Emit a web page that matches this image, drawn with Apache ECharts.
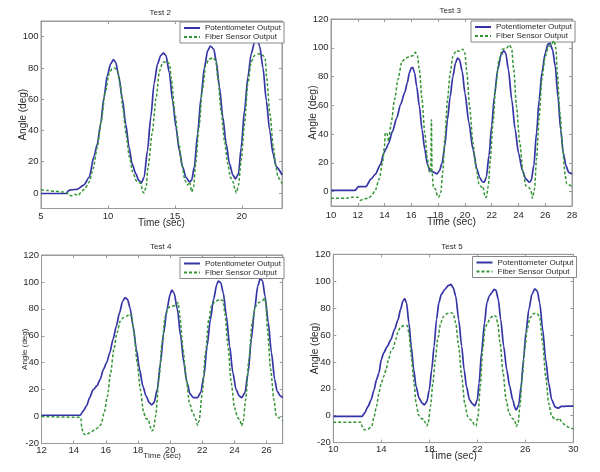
<!DOCTYPE html>
<html><head><meta charset="utf-8">
<script src="https://cdn.jsdelivr.net/npm/echarts@6/dist/echarts.min.js"></script>
<style>html,body{margin:0;padding:0;background:#fff}#c{width:600px;height:472px}</style>
</head><body><div id="c"></div>
<script>
// ---------- data ----------
const seriesNames = ['Potentiometer Output', 'Fiber Sensor Output'];
const panelTitles = ['Test 2', 'Test 3', 'Test 4', 'Test 5'];
const xAxisName = 'Time (sec)';
const yAxisName = 'Angle (deg)';

const test2XTicks = [5, 10, 15, 20];
const test2YTicks = [0, 20, 40, 60, 80, 100];
const test3XTicks = [10, 12, 14, 16, 18, 20, 22, 24, 26, 28];
const test3YTicks = [0, 20, 40, 60, 80, 100, 120];
const test4XTicks = [12, 14, 16, 18, 20, 22, 24, 26];
const test4YTicks = [-20, 0, 20, 40, 60, 80, 100, 120];
const test5XTicks = [10, 14, 18, 22, 26, 30];
const test5YTicks = [-20, 0, 20, 40, 60, 80, 100, 120];

const test2Pot = [[5,-0.4],[6,-0.4],[6.9,-0.4],[7.05,1.5],[7.3,2],[7.7,2.3],[8.2,5],[8.6,10],[8.95,23],[9.2,31],[9.45,44],[9.7,61],[9.95,75],[10.2,82.5],[10.4,85.3],[10.58,83.6],[10.8,75],[11.08,60],[11.33,44],[11.58,29],[11.8,18.7],[12.08,12.3],[12.3,8],[12.5,6.4],[12.7,10],[12.95,27],[13.2,48.5],[13.45,70],[13.7,82.5],[13.95,88],[14.15,89.4],[14.33,88],[14.58,77],[14.83,59],[15.08,42],[15.33,27],[15.58,16.6],[15.83,10],[16.08,7],[16.25,8],[16.45,16.6],[16.7,38],[16.95,61],[17.2,80],[17.45,91],[17.65,94],[17.9,92],[18.08,84.7],[18.33,67.7],[18.58,48.5],[18.83,31.5],[19.08,18.7],[19.33,11.3],[19.53,9],[19.75,12.3],[19.95,29],[20.2,52.8],[20.45,74],[20.7,89],[20.95,96.4],[21.15,97.9],[21.33,94],[21.58,80],[21.83,59],[22.08,40],[22.33,25],[22.58,16.6],[23,11.5]];
const test2Fiber = [[5,2],[5.5,1.5],[6,1],[6.5,0.8],[6.9,0.3],[7.1,-1.5],[7.3,-1.8],[7.5,-0.8],[7.8,-1.5],[8,0.6],[8.3,3],[8.6,7],[8.9,15.5],[9.2,29],[9.5,46],[9.8,64.5],[10.1,76.6],[10.3,79.4],[10.5,80],[10.7,78],[10.9,70],[11.1,55],[11.35,38],[11.6,23],[11.85,13.4],[12.1,8],[12.3,7],[12.45,6],[12.6,0.6],[12.7,0],[12.85,3.8],[13,16.6],[13.3,38],[13.6,61],[13.85,78],[14.1,83.6],[14.4,84],[14.6,82.5],[14.75,72],[15,50.6],[15.3,31.5],[15.55,16.6],[15.75,8],[15.95,5],[16.1,7],[16.25,0.6],[16.4,3.8],[16.55,18.7],[16.8,42],[17.05,65.5],[17.3,81.5],[17.55,85.7],[17.85,86.4],[18.05,84.7],[18.2,74],[18.45,52.8],[18.7,33.6],[18.95,18.7],[19.15,10],[19.35,7],[19.5,1.7],[19.6,0],[19.75,5],[19.95,21],[20.2,44],[20.45,70],[20.7,83.6],[20.95,88],[21.3,89],[21.6,88],[21.75,85.7],[21.85,74],[22.1,50.6],[22.35,29.4],[22.55,16.6],[22.7,10],[23,6]];

const test3Pot = [[10,0.8],[11.8,0.8],[12.05,3.5],[12.6,3.5],[13,8.8],[13.3,12],[13.7,19],[13.95,27],[14.1,29.5],[14.3,33.6],[14.6,42],[14.9,51],[15.2,60.6],[15.5,68.7],[15.7,75.6],[15.85,82.5],[16,86],[16.1,86.4],[16.25,82.5],[16.4,73],[16.6,59.4],[16.8,43],[17,29.5],[17.2,19],[17.4,14.5],[17.7,13.4],[17.9,12.2],[18.1,14.5],[18.3,20],[18.5,31.8],[18.7,50],[18.9,66],[19.1,80],[19.3,89.4],[19.45,92.9],[19.6,91.7],[19.8,83.6],[20,68.7],[20.3,48],[20.6,29.5],[20.9,15.7],[21.1,10],[21.3,7],[21.45,6.5],[21.6,10],[21.8,25],[22,45.6],[22.2,66],[22.45,84.8],[22.7,95],[22.9,98],[23.05,96.3],[23.25,84.8],[23.5,64],[23.75,43.3],[24,27],[24.3,14.5],[24.55,8.8],[24.8,6.5],[24.95,7.6],[25.15,18],[25.35,41],[25.55,64],[25.75,82.5],[26,96.3],[26.2,102.5],[26.35,103.2],[26.55,98.6],[26.75,87],[26.95,66],[27.15,43.3],[27.35,27],[27.55,18],[27.75,13.4],[28,12.2]];
const test3Fiber = [[10,-4.6],[11.2,-4.6],[11.5,-4],[12,-4],[12.2,-6],[12.5,-5],[12.8,-4.5],[13,-3],[13.3,0.7],[13.6,8.8],[13.85,20],[14,31.8],[14.05,41],[14.2,40],[14.3,35],[14.5,48],[14.75,64],[15,78],[15.3,90.5],[15.6,92.9],[15.9,94],[16.1,94.5],[16.3,96.8],[16.45,94.5],[16.6,84.8],[16.8,64],[17,41],[17.2,22.6],[17.35,13.4],[17.45,14],[17.5,50],[17.55,13.4],[17.65,3],[17.8,1.8],[17.95,-2.8],[18.05,-3.9],[18.2,-0.5],[18.35,13.4],[18.5,36.4],[18.7,64],[18.9,82.5],[19.1,94],[19.35,98],[19.6,97.5],[19.85,99],[20,96.3],[20.15,82.5],[20.35,59.4],[20.6,34],[20.85,15.7],[21.05,5.3],[21.25,3],[21.35,3.7],[21.5,-3.9],[21.6,-3.9],[21.75,4],[21.9,22.6],[22.1,48],[22.3,73],[22.55,91.7],[22.8,99],[23.1,99.8],[23.35,102],[23.5,98.6],[23.65,84.8],[23.85,59.4],[24.1,34],[24.35,13.4],[24.55,4],[24.75,3],[24.9,1.8],[25.05,-4.6],[25.2,1.8],[25.35,22.6],[25.55,52.5],[25.75,78],[26,94],[26.25,101],[26.45,102],[26.65,105],[26.8,99.8],[26.9,82.5],[27.1,54.8],[27.3,29.5],[27.5,11],[27.6,5.3],[27.8,4.6],[28,3.7]];

const test4Pot = [[12,1],[14.4,1],[14.6,4.2],[14.8,8],[15,14],[15.2,19.8],[15.45,22.8],[15.65,27.7],[15.85,35],[16.05,40],[16.25,47.5],[16.45,57.4],[16.65,67],[16.85,77],[17.05,85.8],[17.2,88.3],[17.35,87],[17.5,81],[17.7,67],[17.9,50],[18.1,35],[18.3,22.8],[18.5,15.3],[18.7,10.4],[18.85,8.7],[19,10.4],[19.2,20],[19.4,40],[19.6,62.3],[19.8,79.6],[20,90.8],[20.1,94],[20.25,91.5],[20.45,79.6],[20.65,60],[20.85,40],[21.05,25],[21.25,16.6],[21.45,14],[21.7,14],[21.9,17.8],[22.1,30],[22.3,52.4],[22.5,72],[22.7,87],[22.9,98],[23,100.7],[23.15,99.4],[23.3,92],[23.5,74.7],[23.7,52.4],[23.9,32.6],[24.1,20],[24.3,15.3],[24.45,14],[24.65,17.8],[24.85,32.6],[25.05,57.4],[25.25,79.6],[25.45,97],[25.6,102.4],[25.75,100.7],[25.9,89.5],[26.1,70],[26.3,47.5],[26.5,27.7],[26.65,19],[26.85,15.3],[27,14]];
const test4Fiber = [[12,0],[14.4,-0.5],[14.45,-1.5],[14.5,-8],[14.6,-12.6],[14.75,-13.6],[15,-12],[15.3,-10],[15.55,-8],[15.7,-5.7],[15.9,3],[16.1,15.3],[16.3,32.6],[16.5,50],[16.7,62.3],[16.9,71],[17.1,73.5],[17.3,74.7],[17.5,76],[17.6,74.7],[17.75,62.3],[17.95,40],[18.15,20],[18.35,3],[18.5,-1.5],[18.65,-2],[18.75,-7],[18.85,-10.6],[18.95,-10],[19.1,0.5],[19.3,27.7],[19.5,55],[19.7,74.7],[19.9,81],[20.15,82],[20.35,82.6],[20.5,84.6],[20.6,74.7],[20.8,50],[21,27.7],[21.2,10.4],[21.4,3],[21.6,-2],[21.7,-6.4],[21.8,-3.2],[22,17.8],[22.2,47.5],[22.4,72],[22.6,83.4],[22.85,85.8],[23.1,87],[23.3,85.8],[23.4,77],[23.6,52.4],[23.8,25],[24,6.7],[24.2,-0.7],[24.35,-3.2],[24.45,-7],[24.55,-3.2],[24.7,12.9],[24.9,42.5],[25.1,70],[25.3,82],[25.55,85],[25.75,85.8],[25.85,88.3],[25.95,84.6],[26.05,64.8],[26.25,35],[26.45,12.9],[26.6,0.5],[26.8,-1.2],[27,-3.2]];

const test5Pot = [[10,-0.5],[12.4,-0.5],[12.6,1.9],[12.9,6.9],[13.15,11.8],[13.4,19.3],[13.6,26.8],[13.8,31.7],[14,41.7],[14.2,46.7],[14.5,51.6],[14.8,56.6],[15.1,64],[15.4,71.5],[15.6,79],[15.8,85.2],[15.95,87],[16.1,84],[16.3,69],[16.5,51.6],[16.7,34.2],[16.9,21.8],[17.15,13],[17.4,9.3],[17.6,8.1],[17.8,10.6],[18,19.3],[18.2,34.2],[18.4,51.6],[18.6,71.5],[18.8,84],[19,90.2],[19.3,94],[19.6,96.9],[19.8,97.6],[20,95],[20.2,89],[20.45,71.5],[20.7,51.6],[20.9,34.2],[21.1,21.8],[21.35,11.8],[21.6,8.8],[21.8,7.4],[22,11.8],[22.15,24.3],[22.35,46.7],[22.6,69],[22.8,84],[23,89],[23.2,91.4],[23.4,94],[23.55,93.4],[23.75,86.5],[23.95,71.5],[24.2,51.6],[24.45,34.2],[24.7,21.8],[24.95,11.8],[25.15,5.6],[25.25,4.4],[25.45,8.1],[25.65,21.8],[25.85,41.7],[26.05,61.6],[26.3,79],[26.55,90.2],[26.8,94.4],[27,92.6],[27.2,84],[27.45,64],[27.7,41.7],[27.95,24.3],[28.2,11.8],[28.5,6.4],[28.75,5.6],[29,6.9],[29.5,7.1],[30,7.1]];
const test5Fiber = [[10,-4.8],[12.3,-4.8],[12.4,-8],[12.6,-10.6],[12.9,-10],[13.2,-8],[13.4,-0.6],[13.6,6.9],[13.8,16.8],[14,24.3],[14.2,29.2],[14.4,34.2],[14.6,41.7],[14.8,47.9],[15,50.4],[15.2,56.6],[15.4,62.8],[15.6,66],[15.9,67],[16.15,67],[16.3,61.6],[16.5,44.2],[16.7,26.8],[16.9,9.3],[17.1,0.6],[17.3,-1.9],[17.5,-2.6],[17.7,-5.6],[17.8,-7.6],[17.9,-5.6],[18.1,6.9],[18.3,24.3],[18.5,41.7],[18.7,56.6],[18.95,69],[19.2,74],[19.5,76],[19.8,76.5],[20,76],[20.2,69],[20.45,51.6],[20.7,29.2],[20.95,9.3],[21.2,-0.6],[21.4,-2.6],[21.6,-4.3],[21.75,-6.8],[21.9,-7.6],[22.05,-0.6],[22.25,21.8],[22.45,49],[22.65,65.3],[22.85,69],[23.1,72.8],[23.35,74.5],[23.55,74],[23.7,69],[23.9,54],[24.15,31.7],[24.4,11.8],[24.65,1.9],[24.9,-1.9],[25.1,-3.1],[25.25,-8],[25.4,-5.6],[25.55,6.9],[25.75,29.2],[25.95,49],[26.15,64],[26.4,72.8],[26.7,76],[27,76],[27.2,72.8],[27.45,54],[27.7,29.2],[27.95,9.3],[28.2,-0.6],[28.5,-2.6],[28.7,-3.1],[28.85,-1.9],[29,-4.3],[29.3,-6.8],[29.6,-8.6],[30,-10]];

const potData = [test2Pot, test3Pot, test4Pot, test5Pot];
const fiberData = [test2Fiber, test3Fiber, test4Fiber, test5Fiber];
const xTicks = [test2XTicks, test3XTicks, test4XTicks, test5XTicks];
const yTicks = [test2YTicks, test3YTicks, test4YTicks, test5YTicks];
const xRanges = [[5, 23], [10, 28], [12, 27], [10, 30]];
const yRanges = [[-10, 110], [-10, 120], [-20, 120], [-20, 120]];

// ---------- layout / style ----------
const panels = [
  {left: 41, top: 21, width: 241, height: 187.5, xMargin: 2.5, xNameGap: 9.5, yNameGap: 13, nameSize: 10, legendLeft: 180, legendTop: 22},
  {left: 331, top: 19, width: 241, height: 187, xMargin: 4, xNameGap: 11, yNameGap: 12, nameSize: 10.5, legendLeft: 471, legendTop: 21},
  {left: 41.5, top: 255, width: 241.2, height: 188.5, xMargin: 2, xNameGap: 8, yNameGap: 12.5, nameSize: 8, legendLeft: 180, legendTop: 257.5},
  {left: 333.3, top: 254.3, width: 240, height: 188.3, xMargin: 2, xNameGap: 8.5, yNameGap: 13, nameSize: 10, legendLeft: 472.5, legendTop: 256.5}
];
const potColor = '#3434a6';
const fiberColor = '#359535';
const axisColor = '#9a9a9a';
const textColor = '#2a2a2a';
const fontFamily = 'Liberation Sans, Arial, sans-serif';
const tickFont = 9.5;

const grid = [], xAxis = [], yAxis = [], series = [], legend = [], graphic = [];
const xTop = [], yRight = [];
panels.forEach((p, i) => {
  grid.push({left: p.left, top: p.top, width: p.width, height: p.height, show: true,
    borderColor: axisColor, borderWidth: 1, backgroundColor: '#fff', containLabel: false});
  const common = {
    type: 'value', gridIndex: i,
    splitLine: {show: false},
    axisLine: {show: true, onZero: false, lineStyle: {color: axisColor, width: 1}},
    nameMoveOverlap: false
  };
  xAxis.push(Object.assign({}, common, {
    position: 'bottom', min: xRanges[i][0], max: xRanges[i][1],
    axisTick: {show: true, inside: true, length: 3, customValues: xTicks[i], lineStyle: {color: axisColor}},
    axisLabel: {customValues: xTicks[i], fontSize: tickFont, color: textColor, margin: p.xMargin, fontFamily},
    name: xAxisName, nameLocation: 'middle', nameGap: p.xNameGap,
    nameTextStyle: {fontSize: p.nameSize, color: textColor, fontFamily, verticalAlign: 'top'}
  }));
  yAxis.push(Object.assign({}, common, {
    position: 'left', min: yRanges[i][0], max: yRanges[i][1],
    axisTick: {show: true, inside: true, length: 3, customValues: yTicks[i], lineStyle: {color: axisColor}},
    axisLabel: {customValues: yTicks[i], fontSize: tickFont, color: textColor, margin: 2.5, fontFamily},
    name: yAxisName, nameLocation: 'middle', nameGap: p.yNameGap,
    nameTextStyle: {fontSize: p.nameSize, color: textColor, fontFamily}
  }));
  // mirrored tick marks on top and right edges (box ticks)
  xTop.push(Object.assign({}, common, {
    position: 'top', min: xRanges[i][0], max: xRanges[i][1],
    axisTick: {show: true, inside: true, length: 3, customValues: xTicks[i], lineStyle: {color: axisColor}},
    axisLabel: {show: false}
  }));
  yRight.push(Object.assign({}, common, {
    position: 'right', min: yRanges[i][0], max: yRanges[i][1],
    axisTick: {show: true, inside: true, length: 3, customValues: yTicks[i], lineStyle: {color: axisColor}},
    axisLabel: {show: false}
  }));
  series.push({
    name: seriesNames[0], type: 'line', xAxisIndex: i, yAxisIndex: i, data: potData[i],
    showSymbol: false, symbol: 'none', smooth: 0.25, smoothMonotone: 'x', z: 3,
    lineStyle: {color: potColor, width: 1.7}, itemStyle: {color: potColor}, animation: false
  });
  series.push({
    name: seriesNames[1], type: 'line', xAxisIndex: i, yAxisIndex: i, data: fiberData[i],
    showSymbol: false, symbol: 'none', smooth: 0.25, smoothMonotone: 'x', z: 4,
    lineStyle: {color: fiberColor, width: 1.5, type: [3, 2]}, itemStyle: {color: fiberColor}, animation: false
  });
  legend.push({
    orient: 'vertical', left: p.legendLeft, top: p.legendTop, data: seriesNames,
    itemWidth: 16, itemHeight: 8, itemGap: 1, padding: [2, 3, 2, 3],
    borderColor: '#888', borderWidth: 1, backgroundColor: '#fff', selectedMode: false,
    itemStyle: {opacity: 0},
    textStyle: {fontSize: 8, color: textColor, fontFamily}
  });
  graphic.push({
    type: 'text', left: p.left + p.width / 2 - 12, top: p.top - 12,
    style: {text: panelTitles[i], fontSize: 8, fill: textColor, fontFamily}
  });
});

const chart = echarts.init(document.getElementById('c'), null, {renderer: 'canvas'});
chart.setOption({
  backgroundColor: '#fff', animation: false,
  grid, xAxis: xAxis.concat(xTop), yAxis: yAxis.concat(yRight), series, legend, graphic
});
</script></body></html>
